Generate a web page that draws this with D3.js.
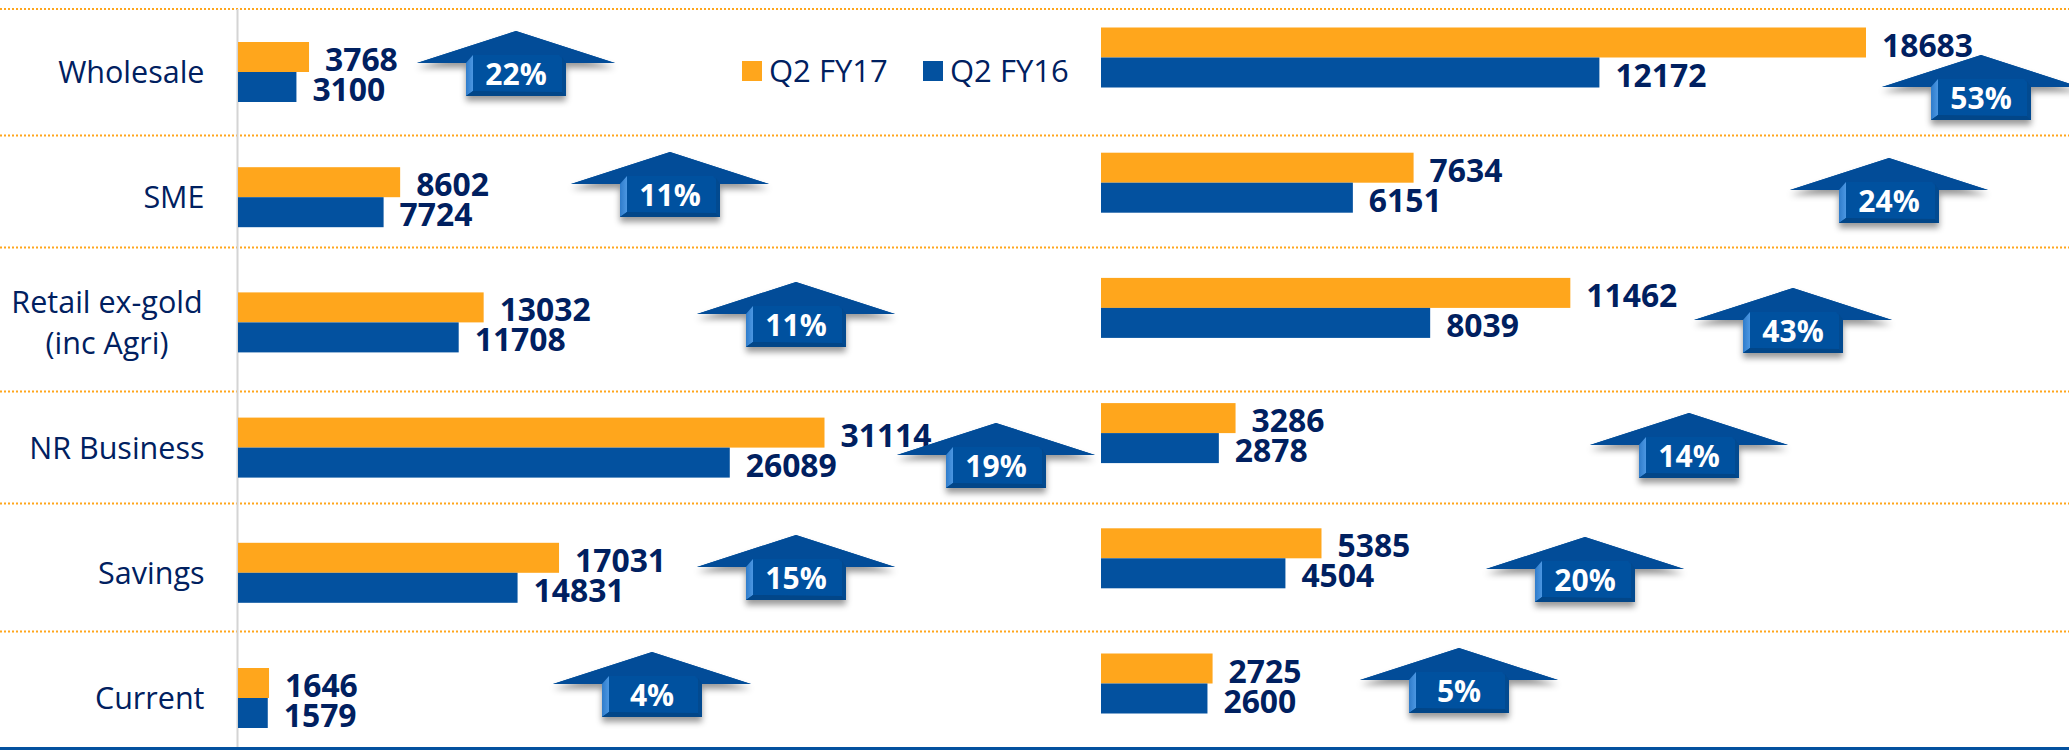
<!DOCTYPE html>
<html><head><meta charset="utf-8">
<script src="https://cdn.jsdelivr.net/npm/d3@7"></script>
<style>html,body{margin:0;padding:0;background:#fff;overflow:hidden}text{font-family:"Open Sans","Noto Sans",sans-serif}</style>
</head><body><svg id="c" width="2069" height="750"></svg>
<script>
const categories = ["Wholesale","SME","Retail ex-gold|(inc Agri)","NR Business","Savings","Current"];
const seriesNames = ["Q2 FY17","Q2 FY16"];
const leftFY17 = [3768,8602,13032,31114,17031,1646];
const leftFY16 = [3100,7724,11708,26089,14831,1579];
const rightFY17 = [18683,7634,11462,3286,5385,2725];
const rightFY16 = [12172,6151,8039,2878,4504,2600];
const leftGrowth = ["22%","11%","11%","19%","15%","4%"];
const rightGrowth = ["53%","24%","43%","14%","20%","5%"];
const colors = ["#FFA61C","#03519F"];

// layout (annotation placement, not data)
const leftArrowPos = [[516,31],[670,152],[796,282],[996,423],[796,535],[652,652]];
const rightArrowPos = [[1981,55],[1889,158],[1793,288],[1689,413],[1585,537],[1459,648]];
const rowLines = [9,135.5,247.5,391.5,503.5,631.5];

const svg = d3.select("#c");
const defs = svg.append("defs");
const f = defs.append("filter").attr("id","sh").attr("x","-20%").attr("y","-20%").attr("width","140%").attr("height","150%");
f.append("feDropShadow").attr("dx",0).attr("dy",5).attr("stdDeviation",3).attr("flood-color","#000").attr("flood-opacity",.4);
const g1 = defs.append("linearGradient").attr("id","hl").attr("x1",0).attr("x2",1).attr("y1",0).attr("y2",0);
g1.append("stop").attr("offset",0).attr("stop-color","#2F7CCB");
g1.append("stop").attr("offset",1).attr("stop-color","#4C97E2");

const yL = d3.scalePoint().domain(categories).range([72,698]);
const yR = d3.scalePoint().domain(categories).range([57.5,683.5]);
const xL = d3.scaleLinear().domain([0,31114]).range([238,824.5]);
const xR = d3.scaleLinear().domain([0,18683]).range([1101,1866]);
const barH = 30;

// dotted row lines
svg.append("g").selectAll("line").data(rowLines).join("line")
  .attr("x1",0).attr("x2",2069).attr("y1",d=>d).attr("y2",d=>d)
  .attr("stroke","#FFA61C").attr("stroke-width",2).attr("stroke-dasharray","2 2");
// axis line + bottom rule
svg.append("line").attr("x1",237.5).attr("x2",237.5).attr("y1",9).attr("y2",747).attr("stroke","#D4D4D4").attr("stroke-width",2);
svg.append("rect").attr("x",0).attr("y",747).attr("width",2069).attr("height",3).attr("fill","#03519F");

// category labels
const cat = svg.append("g").selectAll("text").data(categories).join("text")
  .attr("fill","#002060").attr("font-size",30.5);
cat.each(function(d){
  const parts = d.split("|"), t = d3.select(this);
  const two = parts.length > 1;
  t.attr("text-anchor", two ? "middle" : "end");
  parts.forEach((p,i)=>{
    t.append("tspan").attr("x", two ? 107 : 204.5)
      .attr("y", yL(d)+11+(i-(parts.length-1)/2)*41).text(p);
  });
});

function panel(a,b,growth,pos,x,y){
  const g = svg.append("g");
  [a,b].forEach((vals,s)=>{
    g.append("g").selectAll("rect").data(vals).join("rect")
      .attr("x",x(0)).attr("width",d=>x(d)-x(0))
      .attr("y",(d,i)=>y(categories[i])-(s===0?barH:0)).attr("height",barH)
      .attr("fill",colors[s]);
    g.append("g").selectAll("text").data(vals).join("text")
      .attr("x",d=>x(d)+16)
      .attr("y",(d,i)=>y(categories[i])+(s===0?-15:15)+14)
      .attr("fill","#002060").attr("font-weight",700).attr("font-size",32)
      .attr("textLength",d=>String(d).length*18.2).attr("lengthAdjust","spacingAndGlyphs")
      .text(d=>d);
  });
  const ar = g.append("g").selectAll("g").data(growth).join("g")
    .attr("transform",(d,i)=>`translate(${pos[i][0]},${pos[i][1]})`);
  const line = d3.line();
  ar.append("path").attr("filter","url(#sh)").attr("fill","#03519F")
    .attr("d",line([[0,0],[99,32],[50,32],[50,65],[-50,65],[-50,32],[-99,32]])+"Z");
  ar.append("path").attr("fill","#024C98")
    .attr("d",line([[0,0],[99,32],[50,32],[43,24],[-43,24],[-50,32],[-99,32]])+"Z");
  ar.append("path").attr("fill","url(#hl)")
    .attr("d",line([[-50,32],[-43,24],[-43,60],[-50,65]])+"Z");
  ar.append("path").attr("fill","#024A90")
    .attr("d",line([[50,32],[46,26],[46,61],[50,65]])+"Z");
  ar.append("path").attr("fill","#024688")
    .attr("d",line([[-50,65],[-43,60],[46,61],[50,65]])+"Z");
  ar.append("text").attr("x",0).attr("y",54).attr("text-anchor","middle")
    .attr("fill","#fff").attr("font-weight",700).attr("font-size",30).text(d=>d);
}
panel(leftFY17,leftFY16,leftGrowth,leftArrowPos,xL,yL);
panel(rightFY17,rightFY16,rightGrowth,rightArrowPos,xR,yR);

// legend
const legX = d3.scalePoint().domain(seriesNames).range([742,923]);
const leg = svg.append("g").selectAll("g").data(seriesNames).join("g")
  .attr("transform",d=>`translate(${legX(d)},61)`);
leg.append("rect").attr("width",20).attr("height",20).attr("fill",(d,i)=>colors[i]);
leg.append("text").attr("x",27).attr("y",21).attr("fill","#002060").attr("font-size",31).text(d=>d);
</script></body></html>
